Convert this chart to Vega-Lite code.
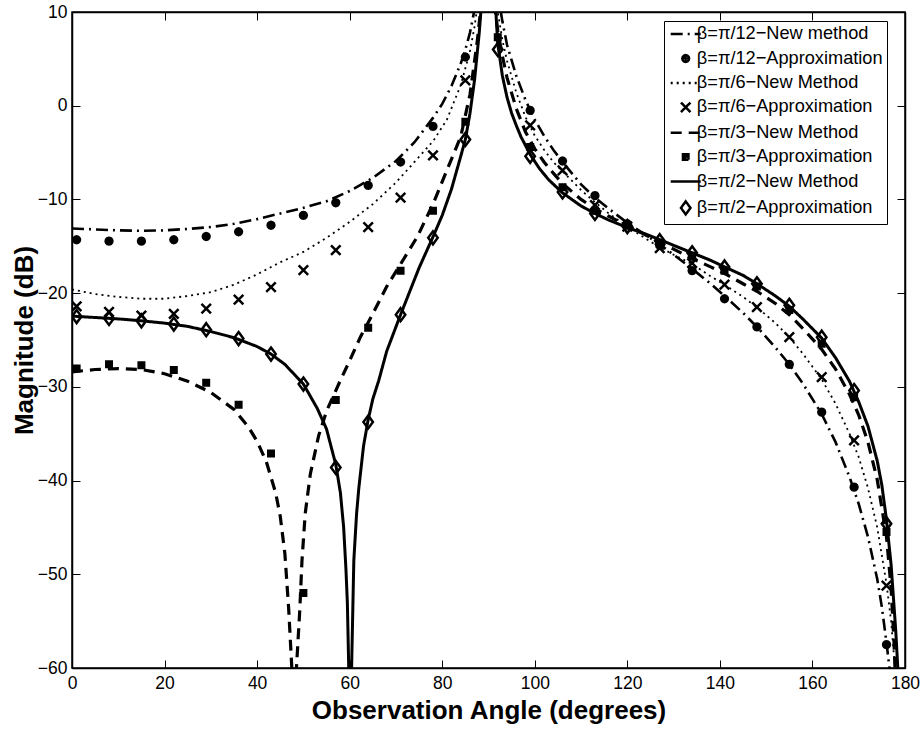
{
  "$schema": "https://vega.github.io/schema/vega-lite/v6.json",
  "width": 833,
  "height": 656,
  "autosize": {"type": "none"},
  "padding": {"left": 72, "top": 12, "right": 18, "bottom": 65},
  "background": "white",
  "view": {"stroke": "black", "strokeWidth": 1.5},
  "config": {
    "font": "Liberation Sans",
    "axis": {
      "domainColor": "black", "domainWidth": 1.5, "tickColor": "black", "tickWidth": 1,
      "labelColor": "black", "labelFont": "Liberation Sans", "labelFontSize": 17.5,
      "titleFont": "Liberation Sans", "titleFontSize": 26, "titleFontWeight": "bold", "titleColor": "black",
      "labelFlush": false, "labelOverlap": false, "grid": false
    },
    "legend": {
      "orient": "none", "legendX": 592, "legendY": 9, "title": null,
      "padding": 4, "strokeColor": "black", "fillColor": "white",
      "labelFont": "Liberation Sans", "labelFontSize": 18.2, "labelColor": "black", "labelLimit": 400,
      "rowPadding": 5.4, "symbolSize": 100, "symbolOffset": 8.6, "labelOffset": 2,
      "symbolStrokeColor": "black", "symbolStrokeWidth": 2.5, "symbolFillColor": "transparent"
    }
  },
  "datasets": {
    "lines": [
      {"s":"β=π/12−New method","x":0,"y":-13.1},{"s":"β=π/12−New method","x":5,"y":-13.2},{"s":"β=π/12−New method","x":10,"y":-13.3},{"s":"β=π/12−New method","x":15,"y":-13.35},{"s":"β=π/12−New method","x":20,"y":-13.3},{"s":"β=π/12−New method","x":25,"y":-13.15},{"s":"β=π/12−New method","x":30,"y":-12.95},{"s":"β=π/12−New method","x":35,"y":-12.6},{"s":"β=π/12−New method","x":40,"y":-12.1},{"s":"β=π/12−New method","x":45,"y":-11.5},{"s":"β=π/12−New method","x":50,"y":-10.9},{"s":"β=π/12−New method","x":55,"y":-10.2},{"s":"β=π/12−New method","x":60,"y":-9.1},{"s":"β=π/12−New method","x":65,"y":-7.7},{"s":"β=π/12−New method","x":70,"y":-5.9},{"s":"β=π/12−New method","x":74,"y":-3.9},{"s":"β=π/12−New method","x":78,"y":-1.3},{"s":"β=π/12−New method","x":80,"y":0.2},{"s":"β=π/12−New method","x":82,"y":2.1},{"s":"β=π/12−New method","x":84,"y":4.5},{"s":"β=π/12−New method","x":85,"y":6.0},{"s":"β=π/12−New method","x":86,"y":7.8},{"s":"β=π/12−New method","x":87,"y":10.3},{"s":"β=π/12−New method","x":88,"y":13.5},{"s":"β=π/12−New method","x":89,"y":19},{"s":"β=π/12−New method","x":90,"y":25},{"s":"β=π/12−New method","x":91,"y":17},{"s":"β=π/12−New method","x":92,"y":12},{"s":"β=π/12−New method","x":93,"y":9},{"s":"β=π/12−New method","x":94,"y":6.5},{"s":"β=π/12−New method","x":96,"y":3.2},{"s":"β=π/12−New method","x":98,"y":0.6},{"s":"β=π/12−New method","x":100,"y":-1.5},{"s":"β=π/12−New method","x":102,"y":-3.2},{"s":"β=π/12−New method","x":104,"y":-4.7},{"s":"β=π/12−New method","x":106,"y":-6.0},{"s":"β=π/12−New method","x":110,"y":-8.4},{"s":"β=π/12−New method","x":113,"y":-9.8},{"s":"β=π/12−New method","x":116,"y":-11.0},{"s":"β=π/12−New method","x":120,"y":-12.5},{"s":"β=π/12−New method","x":124,"y":-13.8},{"s":"β=π/12−New method","x":127,"y":-14.8},{"s":"β=π/12−New method","x":130,"y":-15.9},{"s":"β=π/12−New method","x":134,"y":-17.4},{"s":"β=π/12−New method","x":138,"y":-19.0},{"s":"β=π/12−New method","x":141,"y":-20.3},{"s":"β=π/12−New method","x":145,"y":-22.1},{"s":"β=π/12−New method","x":148,"y":-23.6},{"s":"β=π/12−New method","x":152,"y":-25.8},{"s":"β=π/12−New method","x":155,"y":-27.6},{"s":"β=π/12−New method","x":158,"y":-29.7},{"s":"β=π/12−New method","x":162,"y":-32.9},{"s":"β=π/12−New method","x":165,"y":-35.9},{"s":"β=π/12−New method","x":168,"y":-39.6},{"s":"β=π/12−New method","x":170,"y":-42.5},{"s":"β=π/12−New method","x":172,"y":-46},{"s":"β=π/12−New method","x":174,"y":-50.5},{"s":"β=π/12−New method","x":175,"y":-53.5},{"s":"β=π/12−New method","x":176,"y":-57.3},{"s":"β=π/12−New method","x":177,"y":-61.5},{"s":"β=π/12−New method","x":178,"y":-68},

      {"s":"β=π/6−New Method","x":0,"y":-19.6},{"s":"β=π/6−New Method","x":5,"y":-20.1},{"s":"β=π/6−New Method","x":10,"y":-20.4},{"s":"β=π/6−New Method","x":15,"y":-20.6},{"s":"β=π/6−New Method","x":20,"y":-20.6},{"s":"β=π/6−New Method","x":25,"y":-20.3},{"s":"β=π/6−New Method","x":30,"y":-19.9},{"s":"β=π/6−New Method","x":35,"y":-19.1},{"s":"β=π/6−New Method","x":40,"y":-18.0},{"s":"β=π/6−New Method","x":45,"y":-16.7},{"s":"β=π/6−New Method","x":50,"y":-15.6},{"s":"β=π/6−New Method","x":55,"y":-14.1},{"s":"β=π/6−New Method","x":60,"y":-12.4},{"s":"β=π/6−New Method","x":65,"y":-10.5},{"s":"β=π/6−New Method","x":70,"y":-8.2},{"s":"β=π/6−New Method","x":74,"y":-6.0},{"s":"β=π/6−New Method","x":78,"y":-3.8},{"s":"β=π/6−New Method","x":81,"y":-1.5},{"s":"β=π/6−New Method","x":84,"y":2.2},{"s":"β=π/6−New Method","x":86,"y":5.8},{"s":"β=π/6−New Method","x":87,"y":8.5},{"s":"β=π/6−New Method","x":88,"y":12},{"s":"β=π/6−New Method","x":89,"y":18},{"s":"β=π/6−New Method","x":90,"y":25},{"s":"β=π/6−New Method","x":91,"y":15},{"s":"β=π/6−New Method","x":92,"y":10},{"s":"β=π/6−New Method","x":93,"y":7},{"s":"β=π/6−New Method","x":94,"y":4.8},{"s":"β=π/6−New Method","x":96,"y":1.4},{"s":"β=π/6−New Method","x":98,"y":-1.2},{"s":"β=π/6−New Method","x":100,"y":-3.2},{"s":"β=π/6−New Method","x":102,"y":-4.7},{"s":"β=π/6−New Method","x":104,"y":-6.0},{"s":"β=π/6−New Method","x":106,"y":-7.0},{"s":"β=π/6−New Method","x":110,"y":-9.0},{"s":"β=π/6−New Method","x":113,"y":-10.3},{"s":"β=π/6−New Method","x":116,"y":-11.5},{"s":"β=π/6−New Method","x":120,"y":-12.9},{"s":"β=π/6−New Method","x":124,"y":-14.2},{"s":"β=π/6−New Method","x":127,"y":-15.1},{"s":"β=π/6−New Method","x":130,"y":-15.9},{"s":"β=π/6−New Method","x":134,"y":-16.9},{"s":"β=π/6−New Method","x":138,"y":-18.2},{"s":"β=π/6−New Method","x":141,"y":-19.1},{"s":"β=π/6−New Method","x":145,"y":-20.4},{"s":"β=π/6−New Method","x":148,"y":-21.5},{"s":"β=π/6−New Method","x":152,"y":-23.2},{"s":"β=π/6−New Method","x":155,"y":-24.7},{"s":"β=π/6−New Method","x":158,"y":-26.5},{"s":"β=π/6−New Method","x":162,"y":-29.2},{"s":"β=π/6−New Method","x":165,"y":-31.8},{"s":"β=π/6−New Method","x":168,"y":-35.0},{"s":"β=π/6−New Method","x":170,"y":-37.5},{"s":"β=π/6−New Method","x":172,"y":-40.8},{"s":"β=π/6−New Method","x":174,"y":-45},{"s":"β=π/6−New Method","x":176,"y":-51},{"s":"β=π/6−New Method","x":177,"y":-55},{"s":"β=π/6−New Method","x":178,"y":-61},{"s":"β=π/6−New Method","x":179,"y":-70},

      {"s":"β=π/3−New Method","x":0,"y":-28.4},{"s":"β=π/3−New Method","x":5,"y":-28.15},{"s":"β=π/3−New Method","x":10,"y":-28.05},{"s":"β=π/3−New Method","x":15,"y":-28.15},{"s":"β=π/3−New Method","x":20,"y":-28.6},{"s":"β=π/3−New Method","x":25,"y":-29.4},{"s":"β=π/3−New Method","x":30,"y":-30.6},{"s":"β=π/3−New Method","x":35,"y":-32.4},{"s":"β=π/3−New Method","x":38,"y":-34.2},{"s":"β=π/3−New Method","x":40,"y":-35.8},{"s":"β=π/3−New Method","x":42,"y":-38.0},{"s":"β=π/3−New Method","x":44,"y":-41.3},{"s":"β=π/3−New Method","x":45,"y":-43.8},{"s":"β=π/3−New Method","x":46,"y":-47.8},{"s":"β=π/3−New Method","x":46.8,"y":-53.5},{"s":"β=π/3−New Method","x":47.5,"y":-60},{"s":"β=π/3−New Method","x":48,"y":-80},{"s":"β=π/3−New Method","x":48.5,"y":-60},{"s":"β=π/3−New Method","x":49.2,"y":-54},{"s":"β=π/3−New Method","x":49.7,"y":-48.5},{"s":"β=π/3−New Method","x":50.4,"y":-43.5},{"s":"β=π/3−New Method","x":51.5,"y":-39.3},{"s":"β=π/3−New Method","x":53.3,"y":-35.2},{"s":"β=π/3−New Method","x":55,"y":-32.6},{"s":"β=π/3−New Method","x":58,"y":-29.3},{"s":"β=π/3−New Method","x":60,"y":-27.2},{"s":"β=π/3−New Method","x":62.3,"y":-24.7},{"s":"β=π/3−New Method","x":65,"y":-22.2},{"s":"β=π/3−New Method","x":68,"y":-19.3},{"s":"β=π/3−New Method","x":71,"y":-16.9},{"s":"β=π/3−New Method","x":74.6,"y":-14.0},{"s":"β=π/3−New Method","x":78,"y":-10.5},{"s":"β=π/3−New Method","x":81,"y":-6.9},{"s":"β=π/3−New Method","x":84,"y":-3.3},{"s":"β=π/3−New Method","x":86,"y":1.2},{"s":"β=π/3−New Method","x":87.6,"y":7},{"s":"β=π/3−New Method","x":88.3,"y":10.2},{"s":"β=π/3−New Method","x":89,"y":15},{"s":"β=π/3−New Method","x":90,"y":25},{"s":"β=π/3−New Method","x":91,"y":12},{"s":"β=π/3−New Method","x":92,"y":8},{"s":"β=π/3−New Method","x":93,"y":5.3},{"s":"β=π/3−New Method","x":94,"y":3.0},{"s":"β=π/3−New Method","x":96,"y":-0.3},{"s":"β=π/3−New Method","x":98,"y":-2.8},{"s":"β=π/3−New Method","x":100,"y":-4.6},{"s":"β=π/3−New Method","x":102,"y":-6.0},{"s":"β=π/3−New Method","x":104,"y":-7.2},{"s":"β=π/3−New Method","x":106,"y":-8.3},{"s":"β=π/3−New Method","x":110,"y":-10.0},{"s":"β=π/3−New Method","x":113,"y":-11.0},{"s":"β=π/3−New Method","x":116,"y":-11.8},{"s":"β=π/3−New Method","x":120,"y":-12.8},{"s":"β=π/3−New Method","x":124,"y":-13.8},{"s":"β=π/3−New Method","x":127,"y":-14.6},{"s":"β=π/3−New Method","x":130,"y":-15.3},{"s":"β=π/3−New Method","x":134,"y":-16.3},{"s":"β=π/3−New Method","x":138,"y":-17.2},{"s":"β=π/3−New Method","x":141,"y":-17.9},{"s":"β=π/3−New Method","x":145,"y":-19.0},{"s":"β=π/3−New Method","x":148,"y":-19.8},{"s":"β=π/3−New Method","x":152,"y":-21.1},{"s":"β=π/3−New Method","x":155,"y":-22.3},{"s":"β=π/3−New Method","x":158,"y":-23.8},{"s":"β=π/3−New Method","x":162,"y":-26.0},{"s":"β=π/3−New Method","x":165,"y":-28.1},{"s":"β=π/3−New Method","x":168,"y":-30.8},{"s":"β=π/3−New Method","x":170,"y":-33.0},{"s":"β=π/3−New Method","x":172,"y":-35.9},{"s":"β=π/3−New Method","x":174,"y":-39.9},{"s":"β=π/3−New Method","x":176,"y":-46.0},{"s":"β=π/3−New Method","x":177,"y":-51.5},{"s":"β=π/3−New Method","x":177.6,"y":-57},{"s":"β=π/3−New Method","x":178,"y":-62},{"s":"β=π/3−New Method","x":179,"y":-72},

      {"s":"β=π/2−New Method","x":0,"y":-22.45},{"s":"β=π/2−New Method","x":5,"y":-22.6},{"s":"β=π/2−New Method","x":10,"y":-22.75},{"s":"β=π/2−New Method","x":15,"y":-22.95},{"s":"β=π/2−New Method","x":20,"y":-23.2},{"s":"β=π/2−New Method","x":25,"y":-23.55},{"s":"β=π/2−New Method","x":30,"y":-24.1},{"s":"β=π/2−New Method","x":35,"y":-24.75},{"s":"β=π/2−New Method","x":40,"y":-25.7},{"s":"β=π/2−New Method","x":43,"y":-26.5},{"s":"β=π/2−New Method","x":46,"y":-27.6},{"s":"β=π/2−New Method","x":50,"y":-29.7},{"s":"β=π/2−New Method","x":53,"y":-32.3},{"s":"β=π/2−New Method","x":55,"y":-34.5},{"s":"β=π/2−New Method","x":57,"y":-38.3},{"s":"β=π/2−New Method","x":58,"y":-41.3},{"s":"β=π/2−New Method","x":58.7,"y":-45},{"s":"β=π/2−New Method","x":59.2,"y":-49.5},{"s":"β=π/2−New Method","x":59.5,"y":-53},{"s":"β=π/2−New Method","x":59.8,"y":-60},{"s":"β=π/2−New Method","x":60,"y":-80},{"s":"β=π/2−New Method","x":60.3,"y":-63},{"s":"β=π/2−New Method","x":60.5,"y":-58},{"s":"β=π/2−New Method","x":60.9,"y":-48.5},{"s":"β=π/2−New Method","x":61.5,"y":-43.5},{"s":"β=π/2−New Method","x":62,"y":-40.7},{"s":"β=π/2−New Method","x":63,"y":-36.3},{"s":"β=π/2−New Method","x":64,"y":-33.5},{"s":"β=π/2−New Method","x":65,"y":-31.3},{"s":"β=π/2−New Method","x":66.3,"y":-29.3},{"s":"β=π/2−New Method","x":68,"y":-26.2},{"s":"β=π/2−New Method","x":69,"y":-24.9},{"s":"β=π/2−New Method","x":70,"y":-23.6},{"s":"β=π/2−New Method","x":71,"y":-22.3},{"s":"β=π/2−New Method","x":73,"y":-19.8},{"s":"β=π/2−New Method","x":75,"y":-17.3},{"s":"β=π/2−New Method","x":78,"y":-14.0},{"s":"β=π/2−New Method","x":80,"y":-11.7},{"s":"β=π/2−New Method","x":82,"y":-8.9},{"s":"β=π/2−New Method","x":84,"y":-5.4},{"s":"β=π/2−New Method","x":85,"y":-3.6},{"s":"β=π/2−New Method","x":86,"y":-0.8},{"s":"β=π/2−New Method","x":87,"y":2.8},{"s":"β=π/2−New Method","x":88,"y":7.8},{"s":"β=π/2−New Method","x":88.5,"y":11},{"s":"β=π/2−New Method","x":89,"y":16},{"s":"β=π/2−New Method","x":90,"y":25},{"s":"β=π/2−New Method","x":91,"y":14},{"s":"β=π/2−New Method","x":91.6,"y":10},{"s":"β=π/2−New Method","x":92,"y":6.6},{"s":"β=π/2−New Method","x":93,"y":3.2},{"s":"β=π/2−New Method","x":94,"y":0.9},{"s":"β=π/2−New Method","x":95,"y":-0.8},{"s":"β=π/2−New Method","x":96,"y":-2.1},{"s":"β=π/2−New Method","x":97,"y":-3.3},{"s":"β=π/2−New Method","x":99,"y":-5.2},{"s":"β=π/2−New Method","x":101,"y":-6.7},{"s":"β=π/2−New Method","x":103,"y":-7.9},{"s":"β=π/2−New Method","x":106,"y":-9.3},{"s":"β=π/2−New Method","x":110,"y":-10.7},{"s":"β=π/2−New Method","x":113,"y":-11.5},{"s":"β=π/2−New Method","x":116,"y":-12.2},{"s":"β=π/2−New Method","x":120,"y":-13.0},{"s":"β=π/2−New Method","x":124,"y":-13.7},{"s":"β=π/2−New Method","x":127,"y":-14.3},{"s":"β=π/2−New Method","x":130,"y":-14.9},{"s":"β=π/2−New Method","x":134,"y":-15.7},{"s":"β=π/2−New Method","x":138,"y":-16.5},{"s":"β=π/2−New Method","x":141,"y":-17.2},{"s":"β=π/2−New Method","x":145,"y":-18.1},{"s":"β=π/2−New Method","x":148,"y":-19.0},{"s":"β=π/2−New Method","x":152,"y":-20.3},{"s":"β=π/2−New Method","x":155,"y":-21.4},{"s":"β=π/2−New Method","x":158,"y":-22.8},{"s":"β=π/2−New Method","x":162,"y":-24.8},{"s":"β=π/2−New Method","x":165,"y":-26.9},{"s":"β=π/2−New Method","x":168,"y":-29.4},{"s":"β=π/2−New Method","x":170,"y":-31.6},{"s":"β=π/2−New Method","x":172,"y":-34.2},{"s":"β=π/2−New Method","x":174,"y":-37.9},{"s":"β=π/2−New Method","x":175,"y":-40.5},{"s":"β=π/2−New Method","x":176,"y":-44.2},{"s":"β=π/2−New Method","x":177,"y":-49.0},{"s":"β=π/2−New Method","x":178,"y":-56},{"s":"β=π/2−New Method","x":178.5,"y":-60.5},{"s":"β=π/2−New Method","x":179,"y":-68}
    ],
    "pts": [
      {"s":"β=π/12−Approximation","x":1,"y":-14.3},{"s":"β=π/12−Approximation","x":8,"y":-14.45},{"s":"β=π/12−Approximation","x":15,"y":-14.45},{"s":"β=π/12−Approximation","x":22,"y":-14.3},{"s":"β=π/12−Approximation","x":29,"y":-13.95},{"s":"β=π/12−Approximation","x":36,"y":-13.45},{"s":"β=π/12−Approximation","x":43,"y":-12.75},{"s":"β=π/12−Approximation","x":50,"y":-11.7},{"s":"β=π/12−Approximation","x":57,"y":-10.35},{"s":"β=π/12−Approximation","x":64,"y":-8.5},{"s":"β=π/12−Approximation","x":71,"y":-6.0},{"s":"β=π/12−Approximation","x":78,"y":-2.2},{"s":"β=π/12−Approximation","x":85,"y":5.2},{"s":"β=π/12−Approximation","x":99,"y":-0.5},{"s":"β=π/12−Approximation","x":106,"y":-5.9},{"s":"β=π/12−Approximation","x":113,"y":-9.6},{"s":"β=π/12−Approximation","x":120,"y":-12.6},{"s":"β=π/12−Approximation","x":127,"y":-14.9},{"s":"β=π/12−Approximation","x":134,"y":-17.6},{"s":"β=π/12−Approximation","x":141,"y":-20.6},{"s":"β=π/12−Approximation","x":148,"y":-23.6},{"s":"β=π/12−Approximation","x":155,"y":-27.6},{"s":"β=π/12−Approximation","x":162,"y":-32.7},{"s":"β=π/12−Approximation","x":169,"y":-40.7},{"s":"β=π/12−Approximation","x":176,"y":-57.5},

      {"s":"β=π/6−Approximation","x":1,"y":-21.4},{"s":"β=π/6−Approximation","x":8,"y":-22.0},{"s":"β=π/6−Approximation","x":15,"y":-22.4},{"s":"β=π/6−Approximation","x":22,"y":-22.2},{"s":"β=π/6−Approximation","x":29,"y":-21.65},{"s":"β=π/6−Approximation","x":36,"y":-20.7},{"s":"β=π/6−Approximation","x":43,"y":-19.35},{"s":"β=π/6−Approximation","x":50,"y":-17.55},{"s":"β=π/6−Approximation","x":57,"y":-15.4},{"s":"β=π/6−Approximation","x":64,"y":-12.95},{"s":"β=π/6−Approximation","x":71,"y":-9.8},{"s":"β=π/6−Approximation","x":78,"y":-5.3},{"s":"β=π/6−Approximation","x":85,"y":2.7},{"s":"β=π/6−Approximation","x":99,"y":-2.1},{"s":"β=π/6−Approximation","x":106,"y":-6.9},{"s":"β=π/6−Approximation","x":113,"y":-10.6},{"s":"β=π/6−Approximation","x":120,"y":-12.9},{"s":"β=π/6−Approximation","x":127,"y":-15.2},{"s":"β=π/6−Approximation","x":134,"y":-16.8},{"s":"β=π/6−Approximation","x":141,"y":-19.1},{"s":"β=π/6−Approximation","x":148,"y":-21.5},{"s":"β=π/6−Approximation","x":155,"y":-24.7},{"s":"β=π/6−Approximation","x":162,"y":-28.95},{"s":"β=π/6−Approximation","x":169,"y":-35.7},{"s":"β=π/6−Approximation","x":176,"y":-51.2},

      {"s":"β=π/3−Approximation","x":1,"y":-28.05},{"s":"β=π/3−Approximation","x":8,"y":-27.6},{"s":"β=π/3−Approximation","x":15,"y":-27.7},{"s":"β=π/3−Approximation","x":22,"y":-28.2},{"s":"β=π/3−Approximation","x":29,"y":-29.55},{"s":"β=π/3−Approximation","x":36,"y":-31.9},{"s":"β=π/3−Approximation","x":43,"y":-37.1},{"s":"β=π/3−Approximation","x":50,"y":-52.0},{"s":"β=π/3−Approximation","x":57,"y":-31.4},{"s":"β=π/3−Approximation","x":64,"y":-23.7},{"s":"β=π/3−Approximation","x":71,"y":-17.6},{"s":"β=π/3−Approximation","x":78,"y":-11.2},{"s":"β=π/3−Approximation","x":85,"y":-1.7},{"s":"β=π/3−Approximation","x":92,"y":7.3},{"s":"β=π/3−Approximation","x":99,"y":-4.4},{"s":"β=π/3−Approximation","x":106,"y":-8.7},{"s":"β=π/3−Approximation","x":113,"y":-11.2},{"s":"β=π/3−Approximation","x":120,"y":-12.8},{"s":"β=π/3−Approximation","x":127,"y":-14.7},{"s":"β=π/3−Approximation","x":134,"y":-16.0},{"s":"β=π/3−Approximation","x":141,"y":-17.6},{"s":"β=π/3−Approximation","x":148,"y":-19.3},{"s":"β=π/3−Approximation","x":155,"y":-21.8},{"s":"β=π/3−Approximation","x":162,"y":-25.4},{"s":"β=π/3−Approximation","x":169,"y":-31.1},{"s":"β=π/3−Approximation","x":176,"y":-45.5},

      {"s":"β=π/2−Approximation","x":1,"y":-22.5},{"s":"β=π/2−Approximation","x":8,"y":-22.7},{"s":"β=π/2−Approximation","x":15,"y":-22.95},{"s":"β=π/2−Approximation","x":22,"y":-23.3},{"s":"β=π/2−Approximation","x":29,"y":-23.9},{"s":"β=π/2−Approximation","x":36,"y":-24.85},{"s":"β=π/2−Approximation","x":43,"y":-26.5},{"s":"β=π/2−Approximation","x":50,"y":-29.7},{"s":"β=π/2−Approximation","x":57,"y":-38.6},{"s":"β=π/2−Approximation","x":64,"y":-33.75},{"s":"β=π/2−Approximation","x":71,"y":-22.3},{"s":"β=π/2−Approximation","x":78,"y":-14.1},{"s":"β=π/2−Approximation","x":85,"y":-3.6},{"s":"β=π/2−Approximation","x":92,"y":6.0},{"s":"β=π/2−Approximation","x":99,"y":-5.4},{"s":"β=π/2−Approximation","x":106,"y":-9.2},{"s":"β=π/2−Approximation","x":113,"y":-11.5},{"s":"β=π/2−Approximation","x":120,"y":-12.9},{"s":"β=π/2−Approximation","x":127,"y":-14.4},{"s":"β=π/2−Approximation","x":134,"y":-15.7},{"s":"β=π/2−Approximation","x":141,"y":-17.2},{"s":"β=π/2−Approximation","x":148,"y":-19.0},{"s":"β=π/2−Approximation","x":155,"y":-21.3},{"s":"β=π/2−Approximation","x":162,"y":-24.7},{"s":"β=π/2−Approximation","x":169,"y":-30.4},{"s":"β=π/2−Approximation","x":176,"y":-44.6}
    ]
  },
  "layer": [
    {
      "data": {"name": "lines"},
      "transform": [{"filter": "datum.s === 'β=π/12−New method'"}],
      "mark": {"type": "line", "clip": true, "color": "black", "strokeWidth": 2.6},
      "encoding": {
        "x": {"field": "x", "type": "quantitative",
          "scale": {"domain": [0, 180], "nice": false, "zero": false},
          "axis": {"orient": "bottom", "values": [0,20,40,60,80,100,120,140,160,180], "format": "d",
            "ticks": true, "tickSize": -8, "labelPadding": 14,
            "title": "Observation Angle (degrees)", "titlePadding": 6}},
        "y": {"field": "y", "type": "quantitative",
          "scale": {"domain": [-60, 10], "nice": false, "zero": false},
          "axis": {"orient": "left", "values": [-60,-50,-40,-30,-20,-10,0,10], "format": "d",
            "ticks": true, "tickSize": -8, "labelPadding": 13,
            "title": "Magnitude (dB)", "titlePadding": 0}},
        "strokeDash": {"field": "s", "type": "nominal", "legend": {"title": null},
          "scale": {"domain": ["β=π/12−New method","β=π/12−Approximation","β=π/6−New Method","β=π/6−Approximation","β=π/3−New Method","β=π/3−Approximation","β=π/2−New Method","β=π/2−Approximation"],
            "range": [[12,5,2,5],[1,0],[2,4],[1,0],[11,7],[1,0],[1,0],[1,0]]}}
      }
    },
    {
      "data": {"name": "lines"},
      "transform": [{"filter": "datum.s === 'β=π/6−New Method'"}],
      "mark": {"type": "line", "clip": true, "color": "black", "strokeWidth": 1.8},
      "encoding": {
        "x": {"field": "x", "type": "quantitative", "axis": null},
        "y": {"field": "y", "type": "quantitative", "axis": null},
        "strokeDash": {"field": "s", "type": "nominal", "legend": {"title": null}}
      }
    },
    {
      "data": {"name": "lines"},
      "transform": [{"filter": "datum.s === 'β=π/3−New Method'"}],
      "mark": {"type": "line", "clip": true, "color": "black", "strokeWidth": 3.2},
      "encoding": {
        "x": {"field": "x", "type": "quantitative", "axis": null},
        "y": {"field": "y", "type": "quantitative", "axis": null},
        "strokeDash": {"field": "s", "type": "nominal", "legend": {"title": null}}
      }
    },
    {
      "data": {"name": "lines"},
      "transform": [{"filter": "datum.s === 'β=π/2−New Method'"}],
      "mark": {"type": "line", "clip": true, "color": "black", "strokeWidth": 3},
      "encoding": {
        "x": {"field": "x", "type": "quantitative", "axis": null},
        "y": {"field": "y", "type": "quantitative", "axis": null},
        "strokeDash": {"field": "s", "type": "nominal", "legend": {"title": null}}
      }
    },
    {
      "data": {"name": "pts"},
      "mark": {"type": "point", "clip": true, "stroke": "black", "strokeWidth": 2.5, "opacity": 1, "size": 100, "filled": false},
      "encoding": {
        "x": {"field": "x", "type": "quantitative",
          "axis": {"orient": "top", "values": [0,20,40,60,80,100,120,140,160,180], "labels": false, "title": null,
            "ticks": true, "tickSize": -8, "domain": true}},
        "y": {"field": "y", "type": "quantitative",
          "axis": {"orient": "right", "values": [-60,-50,-40,-30,-20,-10,0,10], "labels": false, "title": null,
            "ticks": true, "tickSize": -8, "domain": true}},
        "shape": {"field": "s", "type": "nominal", "legend": {"title": null},
          "scale": {"domain": ["β=π/12−New method","β=π/12−Approximation","β=π/6−New Method","β=π/6−Approximation","β=π/3−New Method","β=π/3−Approximation","β=π/2−New Method","β=π/2−Approximation"],
            "range": [
              "M-3,0H3",
              "M0.68,0L0.589,0.34L0.34,0.589L0,0.68L-0.34,0.589L-0.589,0.34L-0.68,0L-0.589,-0.34L-0.34,-0.589L0,-0.68L0.34,-0.589L0.589,-0.34ZM-0.2,-0.2H0.2V0.2H-0.2Z",
              "M-3,0H3",
              "M-0.95,-0.95L0.95,0.95M-0.95,0.95L0.95,-0.95",
              "M-3,0H3",
              "M-0.55,-0.55H0.55V0.55H-0.55ZM-0.15,-0.15H0.15V0.15H-0.15Z",
              "M-3,0H3",
              "M0,-1.3L0.95,0L0,1.3L-0.95,0Z"
            ]}}
      }
    }
  ],
  "resolve": {"axis": {"x": "independent", "y": "independent"}}
}
